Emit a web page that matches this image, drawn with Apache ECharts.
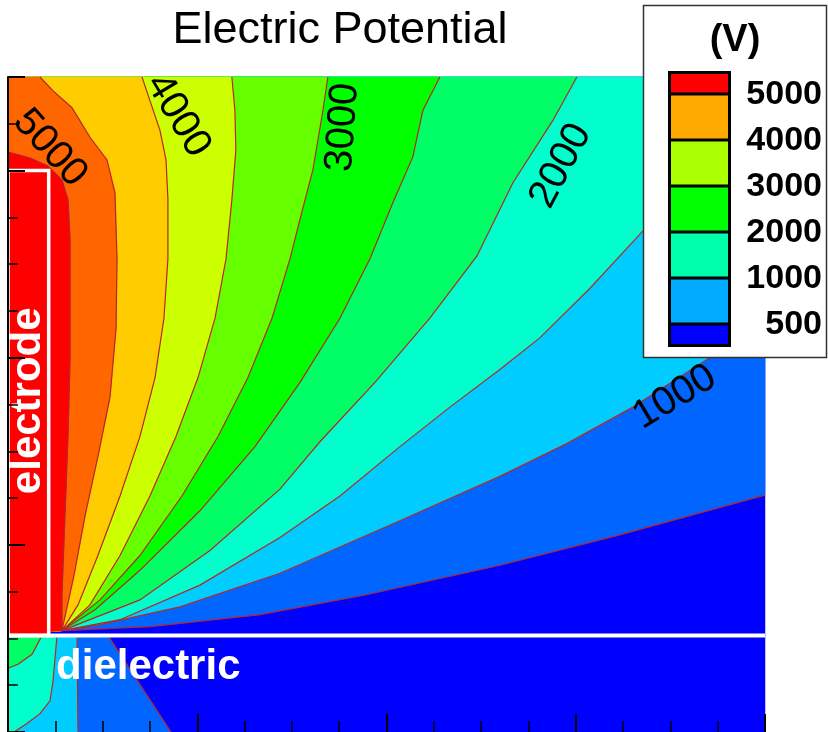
<!DOCTYPE html>
<html>
<head>
<meta charset="utf-8">
<script src="https://cdn.jsdelivr.net/npm/echarts@6/dist/echarts.min.js"></script>
<style>
html, body { margin: 0; padding: 0; background: #fff; }
#chart { width: 828px; height: 732px; }
</style>
</head>
<body>
<div id="chart"></div>
<script>
// ---- Potential levels (V) and the band colours between them -------------
const levels = [500, 1000, 1500, 2000, 2500, 3000, 3500, 4000, 4500, 5000];
// lowest band first: below 500 V, 500-1000 V, ..., above 5000 V
const bandColors = ['#0000ff', '#0066ff', '#00ccff', '#00ffcc', '#00ff66',
                    '#00ff00', '#66ff00', '#ccff00', '#ffcc00', '#ff6600', '#ff0000'];

// ---- Geometry (mm) -------------------------------------------------------
const xRange = [0, 4];
const yRange = [0, 3.5];
const interfaceY = 0.516;     // dielectric surface
const electrodeX = 0.215;     // electrode width
const electrodeTop = 3.0;     // electrode upper end

// ---- Iso-potential lines in the gap above the dielectric [x, y] (mm) -----
// each runs from the domain boundary to the electrode/dielectric junction
const gap500  = [[4.0,1.266],[3.217,1.049],[2.599,0.891],[1.886,0.732],[1.331,0.627],[0.750,0.563],[0.285,0.542]];
const gap1000 = [[4.0,2.133],[3.708,2.000],[3.302,1.736],[2.953,1.541],[2.599,1.366],[2.071,1.129],[1.437,0.848],[0.909,0.669],[0.486,0.574],[0.285,0.542]];
const gap1500 = [[4.0,3.109],[3.655,2.951],[3.349,2.671],[3.074,2.370],[2.810,2.106],[2.599,1.937],[2.335,1.736],[2.071,1.525],[1.754,1.261],[1.437,1.039],[1.014,0.785],[0.592,0.600],[0.285,0.542]];
const gap2000 = [[3.006,3.5],[2.879,3.268],[2.668,2.935],[2.478,2.544],[2.229,2.211],[1.939,1.868],[1.648,1.551],[1.437,1.298],[1.067,0.970],[0.697,0.706],[0.285,0.542]];
const gap2500 = [[2.282,3.5],[2.192,3.321],[2.139,3.073],[2.034,2.829],[1.912,2.528],[1.754,2.211],[1.543,1.868],[1.305,1.525],[1.014,1.182],[0.697,0.864],[0.460,0.653],[0.285,0.542]];
const gap3000 = [[1.690,3.5],[1.664,3.321],[1.611,3.004],[1.543,2.740],[1.490,2.528],[1.395,2.211],[1.268,1.894],[1.109,1.578],[0.919,1.261],[0.697,0.943],[0.486,0.706],[0.285,0.542]];
const gap3500 = [[1.183,3.5],[1.199,3.321],[1.204,3.109],[1.183,2.845],[1.152,2.528],[1.094,2.211],[1.004,1.894],[0.887,1.578],[0.750,1.261],[0.592,0.943],[0.433,0.679],[0.285,0.542]];
const gap4000 = [[0.708,3.5],[0.750,3.374],[0.803,3.215],[0.835,3.057],[0.845,2.845],[0.845,2.528],[0.824,2.211],[0.777,1.894],[0.697,1.578],[0.592,1.261],[0.475,0.943],[0.370,0.679],[0.285,0.542]];
const gap4500 = [[0.169,3.5],[0.238,3.426],[0.338,3.336],[0.433,3.178],[0.523,3.057],[0.565,2.882],[0.576,2.528],[0.571,2.159],[0.539,1.789],[0.475,1.472],[0.407,1.155],[0.349,0.838],[0.285,0.542]];
const gap5000 = [[0,3.099],[0.116,3.067],[0.211,3.025],[0.285,2.951],[0.317,2.845],[0.328,2.634],[0.328,2.000],[0.317,1.578],[0.301,1.155],[0.285,0.732],[0.285,0.542]];
const gapLines = [gap500, gap1000, gap1500, gap2000, gap2500, gap3000, gap3500, gap4000, gap4500, gap5000];

// ---- Iso-potential lines inside the dielectric (500 ... 2000 V) -----------
const diel500  = [[0.528,0.516],[0.861,0]];
const diel1000 = [[0.365,0.516],[0.370,0]];
const diel1500 = [[0.259,0.516],[0.248,0.389],[0.238,0.273],[0.222,0.167],[0.169,0.098],[0.100,0.045],[0.032,0]];
const diel2000 = [[0.180,0.516],[0.127,0.415],[0.053,0.362],[0,0.341]];
const dielLines = [diel500, diel1000, diel1500, diel2000];

// ---- Labelled iso-lines and colour legend --------------------------------
const labelLevels = [5000, 4000, 3000, 2000, 1000];
const legendLevels = [5000, 4000, 3000, 2000, 1000, 500];
const legendColors = ['#ff0000', '#ffaa00', '#aaff00', '#00ff00', '#00ffaa', '#00aaff', '#0000ff'];

// --------------------------------------------------------------------------
const FONT = '"Liberation Sans", Arial, Helvetica, sans-serif';
const [xMin, xMax] = xRange;
const [yMin, yMax] = yRange;

// Filled regions, painted low to high: each polygon covers V > level
const fills = [];
fills.push({ pts: [[xMin, interfaceY], [xMax, interfaceY], [xMax, yMax], [xMin, yMax]], color: bandColors[0] });
fills.push({ pts: [[xMin, yMin], [xMax, yMin], [xMax, interfaceY], [xMin, interfaceY]], color: bandColors[0] });
gapLines.forEach((line, i) => {
  const pts = line.slice();
  pts.push([xMin, interfaceY], [xMin, yMax]);
  if (line[0][0] >= xMax - 1e-9) pts.push([xMax, yMax]);
  fills.push({ pts, color: bandColors[i + 1] });
});
dielLines.forEach((line, i) => {
  fills.push({ pts: line.concat([[xMin, yMin], [xMin, interfaceY]]), color: bandColors[i + 1] });
});
const allLines = gapLines.concat(dielLines);

// Where each labelled iso-line carries its value (mm) and the text angle (deg, ccw)
const labelPlacement = {
  5000: { at: [0.222, 3.120], rot: -48 },
  4000: { at: [0.898, 3.294], rot: -59 },
  3000: { at: [1.770, 3.231], rot: 86 },
  2000: { at: [2.921, 3.025], rot: 62 },
  1000: { at: [3.523, 1.789], rot: 31 }
};

// Legend (drawn in pixels, beside the plot)
const legend = [];
const lgTop = 71, lgBot = 347, lgX = 668, lgW = 63, unit = 46;
legend.push({ type: 'rect', shape: { x: 643.5, y: 5.5, width: 183, height: 352 },
  style: { fill: '#fff', stroke: '#333', lineWidth: 1.5 } });
legend.push({ type: 'text', x: 735, y: 41,
  style: { text: '(V)', font: 'bold 38px ' + FONT, fill: '#000', align: 'center', verticalAlign: 'middle' } });
legend.push({ type: 'rect', shape: { x: lgX, y: lgTop, width: lgW, height: lgBot - lgTop }, style: { fill: '#000' } });
const bounds = legendLevels.map((_, k) => lgTop + unit / 2 + unit * k);
legendColors.forEach((c, i) => {
  const y0 = i === 0 ? lgTop + 3 : bounds[i - 1] + 1.5;
  const y1 = i === legendColors.length - 1 ? lgBot - 3 : bounds[i] - 1.5;
  legend.push({ type: 'rect', shape: { x: lgX + 3, y: y0, width: lgW - 6, height: y1 - y0 }, style: { fill: c } });
});
legendLevels.forEach((v, k) => {
  legend.push({ type: 'text', x: 822, y: bounds[k] + 1,
    style: { text: String(v), font: 'bold 34px ' + FONT, fill: '#000', align: 'right', verticalAlign: 'middle' } });
});
legend.push({ type: 'text', x: 340, y: 31,
  style: { text: 'Electric Potential', font: '45px ' + FONT, fill: '#000', align: 'center', verticalAlign: 'middle' } });

const chart = echarts.init(document.getElementById('chart'), null, { renderer: 'canvas' });
chart.setOption({
  animation: false,
  backgroundColor: '#fff',
  grid: { left: 8, right: 63, top: 77, bottom: -5.5, containLabel: false },
  xAxis: {
    type: 'value', min: xMin, max: xMax, interval: 1, z: 10,
    axisLine: { show: false },
    axisTick: { show: true, inside: true, length: 18, lineStyle: { color: '#000', width: 2 } },
    minorTick: { show: true, splitNumber: 4, length: 11, lineStyle: { color: '#000', width: 1.5 } },
    axisLabel: { show: false }, splitLine: { show: false }
  },
  yAxis: {
    type: 'value', min: yMin, max: yMax, interval: 1, z: 10,
    axisLine: { show: true, lineStyle: { color: '#000', width: 2 } },
    axisTick: { show: true, inside: true, length: 17, lineStyle: { color: '#000', width: 2 } },
    minorTick: { show: true, splitNumber: 4, length: 10, lineStyle: { color: '#000', width: 1.5 } },
    axisLabel: { show: false }, splitLine: { show: false }
  },
  graphic: { elements: legend.map(e => Object.assign({ z: 100 }, e)) },
  series: [
    {
      // colour bands
      type: 'custom', z: 1, silent: true,
      data: fills.map((_, i) => [i]),
      renderItem: (params, api) => {
        const f = fills[params.dataIndex];
        return { type: 'polygon', shape: { points: f.pts.map(p => api.coord(p)) },
                 style: { fill: f.color, stroke: f.color, lineWidth: 0.5 } };
      }
    },
    {
      // iso-potential lines
      type: 'custom', z: 2, silent: true,
      data: allLines.map((_, i) => [i]),
      renderItem: (params, api) => ({
        type: 'polyline',
        shape: { points: allLines[params.dataIndex].map(p => api.coord(p)) },
        style: { stroke: '#b5262a', lineWidth: 1.2, fill: null }
      })
    },
    {
      // electrode, dielectric surface and region names
      type: 'custom', z: 3, silent: true,
      data: [[0]],
      renderItem: (params, api) => {
        const a = api.coord([xMin, electrodeTop]);
        const b = api.coord([electrodeX, interfaceY]);
        const l = api.coord([xMin, interfaceY]);
        const r = api.coord([xMax, interfaceY]);
        const eText = api.coord([0.106, 1.77]);
        const dText = api.coord([0.254, 0.347]);
        return {
          type: 'group',
          children: [
            { type: 'rect', shape: { x: a[0], y: a[1], width: b[0] - a[0], height: b[1] - a[1] },
              style: { fill: bandColors[10], stroke: '#fff', lineWidth: 3.5 } },
            { type: 'line', shape: { x1: l[0], y1: l[1], x2: r[0], y2: r[1] },
              style: { stroke: '#fff', lineWidth: 4 } },
            { type: 'text', x: eText[0], y: eText[1], rotation: Math.PI / 2,
              style: { text: 'electrode', font: 'bold 42px ' + FONT, fill: '#fff', align: 'center', verticalAlign: 'middle' } },
            { type: 'text', x: dText[0], y: dText[1],
              style: { text: 'dielectric', font: 'bold 42px ' + FONT, fill: '#fff', align: 'left', verticalAlign: 'middle' } }
          ]
        };
      }
    },
    {
      // values written along the labelled iso-lines
      type: 'custom', z: 4, silent: true,
      data: labelLevels.map((_, i) => [i]),
      renderItem: (params, api) => {
        const v = labelLevels[params.dataIndex];
        const p = labelPlacement[v];
        const c = api.coord(p.at);
        return { type: 'text', x: c[0], y: c[1], rotation: p.rot * Math.PI / 180,
                 style: { text: String(v), font: '40px ' + FONT, fill: '#000', align: 'center', verticalAlign: 'middle' } };
      }
    }
  ]
});
</script>
</body>
</html>
